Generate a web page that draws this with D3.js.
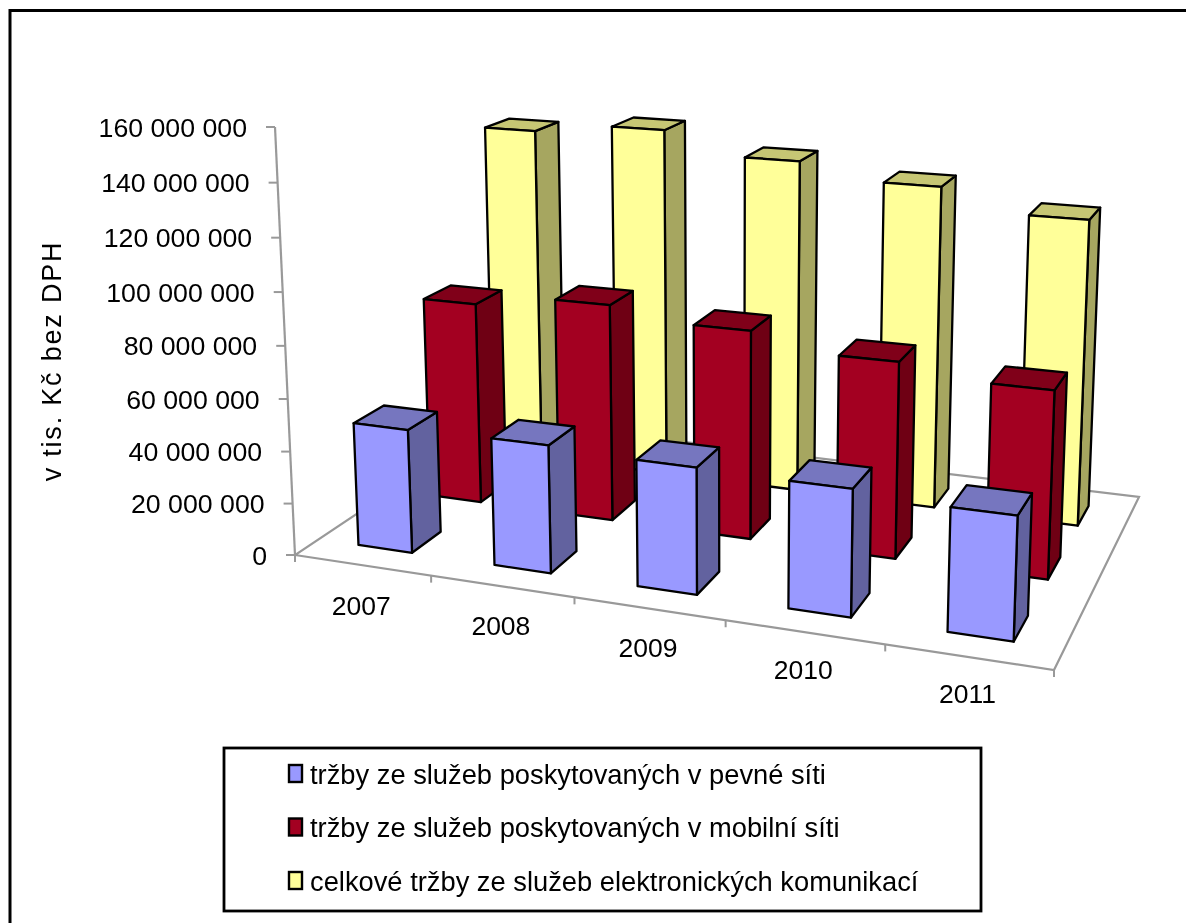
<!DOCTYPE html>
<html><head><meta charset="utf-8">
<script src="https://cdn.jsdelivr.net/npm/d3@7"></script>
<style>html,body{margin:0;background:#fff;overflow:hidden}svg{display:block;filter:blur(0.45px)}text{font-family:"Liberation Sans",Arial,sans-serif;fill:#000}</style>
</head><body><svg id="c" width="1186" height="923"></svg>
<script>
const years=["2007","2008","2009","2010","2011"];
const fixedNet=[47.5,48.3,47,46.4,44.3];
const mobileNet=[80.6,85.5,81,75,70.5];
const totalRev=[138.8,142.7,134,128,119.6];
const seriesNames=["tržby ze služeb poskytovaných v pevné síti","tržby ze služeb poskytovaných v mobilní síti","celkové tržby ze služeb elektronických komunikací"];
const yTicks=[0,20,40,60,80,100,120,140,160];
const yTickLabels=["0","20 000 000","40 000 000","60 000 000","80 000 000","100 000 000","120 000 000","140 000 000","160 000 000"];
const yTitle="v tis. Kč bez DPH";
const seriesValues=[fixedNet,mobileNet,totalRev];
const palette=[{front:"#9999ff",side:"#62629f",top:"#7676bf"},{front:"#a30021",side:"#6f0014",top:"#800019"},{front:"#ffff99",side:"#a6a660",top:"#c6c674"}];

const svg=d3.select("#c");
// perspective from floor corners + vertical vanishing point
const Q=[[295,555],[1054,670],[1139,497],[498.5,419.4]];
const [[x0,y0],[x1,y1],[x2,y2],[x3,y3]]=Q;
const dx1=x1-x2,dx2=x3-x2,sx=x0-x1+x2-x3,dy1=y1-y2,dy2=y3-y2,sy=y0-y1+y2-y3,det=dx1*dy2-dx2*dy1;
const g=(sx*dy2-dx2*sy)/det,h=(dx1*sy-sx*dy1)/det;
const a=x1-x0+g*x1,b=x3-x0+h*x3,d=y1-y0+g*y1,e=y3-y0+h*y3;
const VP=[727,9800],s=-(555-127)/(VP[1]-127);
const zScale=d3.scaleLinear().domain([0,160]).range([0,1]);
const uScale=d3.scaleBand().domain(years).range([0,1]).paddingInner(0.6).paddingOuter(0.3);
const vScale=d3.scaleBand().domain([0,1,2]).range([0,1]).paddingInner(0.6).paddingOuter(0.3);
const uStep=d3.scaleLinear().domain([0,years.length]).range([0,1]);
function P(u,v,val){const z=zScale(val),w=1+g*u+h*v+s*z;return [(a*u+b*v+x0+s*z*VP[0])/w,(d*u+e*v+y0+s*z*VP[1])/w];}
const poly=pts=>"M"+pts.map(p=>p.join(",")).join("L")+"Z";

// frame: left and top only, the rest is cropped away
svg.append("path").attr("d","M10,923V10.5H1186").attr("fill","none").attr("stroke","#000").attr("stroke-width",3);

// floor
const axisC="#999";
svg.append("path").attr("d",poly([P(0,0,0),P(1,0,0),P(1,1,0),P(0,1,0)])).attr("fill","none").attr("stroke",axisC).attr("stroke-width",2.2);
// x ticks
d3.range(years.length+1).forEach(i=>{const p=P(uStep(i),0,0);svg.append("line").attr("x1",p[0]).attr("y1",p[1]).attr("x2",p[0]).attr("y2",p[1]+7).attr("stroke",axisC).attr("stroke-width",2);});
// y axis
const yb=P(0,0,0),yt=P(0,0,160);
svg.append("line").attr("x1",yb[0]).attr("y1",yb[1]).attr("x2",yt[0]).attr("y2",yt[1]).attr("stroke",axisC).attr("stroke-width",2.2);
yTicks.forEach((t,i)=>{const p=P(0,0,t);
 svg.append("line").attr("x1",p[0]-9).attr("y1",p[1]).attr("x2",p[0]).attr("y2",p[1]).attr("stroke",axisC).attr("stroke-width",2);
 svg.append("text").attr("x",p[0]-28).attr("y",p[1]+9.5).attr("text-anchor","end").attr("font-size",26.7).text(yTickLabels[i]);
});
svg.append("text").attr("transform","translate(61,361) rotate(-90)").attr("text-anchor","middle").attr("font-size",27).attr("letter-spacing",1.8).text(yTitle);

// bars, back to front
[2,1,0].forEach(si=>{
 const v0=vScale(si),v1=v0+vScale.bandwidth();
 years.forEach((yr,ci)=>{
  const u0=uScale(yr),u1=u0+uScale.bandwidth(),val=seriesValues[si][ci],c=palette[si];
  const G=svg.append("g").attr("stroke","#000").attr("stroke-width",2.3).attr("stroke-linejoin","round");
  G.append("path").attr("d",poly([P(u1,v0,0),P(u1,v1,0),P(u1,v1,val),P(u1,v0,val)])).attr("fill",c.side);
  G.append("path").attr("d",poly([P(u0,v0,val),P(u1,v0,val),P(u1,v1,val),P(u0,v1,val)])).attr("fill",c.top);
  G.append("path").attr("d",poly([P(u0,v0,0),P(u1,v0,0),P(u1,v0,val),P(u0,v0,val)])).attr("fill",c.front);
 });
});

// category labels
years.forEach((yr,i)=>{const p=P(uScale(yr)+uScale.bandwidth()/2,0,0);
 svg.append("text").attr("x",p[0]-1).attr("y",p[1]+50-i).attr("text-anchor","middle").attr("font-size",26.5).text(yr);});

// legend
svg.append("rect").attr("x",224).attr("y",748).attr("width",757).attr("height",163).attr("fill","#fff").attr("stroke","#000").attr("stroke-width",2.8);
seriesNames.forEach((n,i)=>{const y=774+i*53.5;
 svg.append("rect").attr("x",289).attr("y",y-9).attr("width",13).attr("height",17).attr("fill",palette[i].front).attr("stroke","#000").attr("stroke-width",2.4);
 svg.append("text").attr("x",310).attr("y",y+9.5).attr("font-size",27.3).text(n);
});
</script></body></html>
